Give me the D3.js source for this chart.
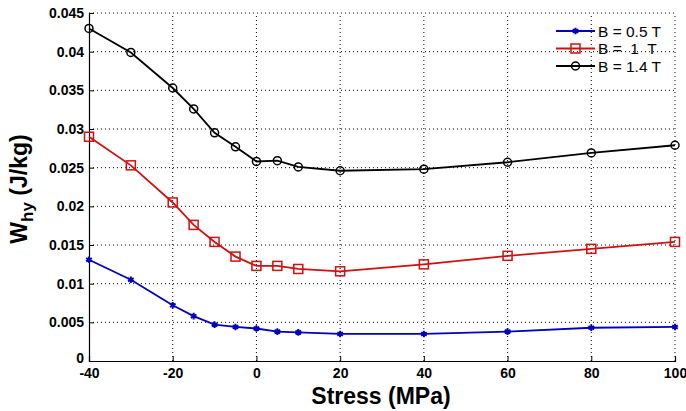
<!DOCTYPE html>
<html>
<head>
<meta charset="utf-8">
<script src="https://cdn.jsdelivr.net/npm/d3@7"></script>
<style>
body{margin:0;background:#fff;}
svg{font-family:Arial,"Liberation Sans",sans-serif;}
</style>
</head>
<body>
<div id="chart"></div>
<script>
// stress values (MPa)
var stress = [-40, -30, -20, -15, -10, -5, 0, 5, 10, 20, 40, 60, 80, 100];
var w05 = [0.0131, 0.0105, 0.0072, 0.0058, 0.0047, 0.0044, 0.0042, 0.0038, 0.0037, 0.0035, 0.0035, 0.0038, 0.0043, 0.0044];
var w10 = [0.0290, 0.0253, 0.0205, 0.0176, 0.0154, 0.0135, 0.0123, 0.0123, 0.0119, 0.0116, 0.0125, 0.0136, 0.0145, 0.0154];
var w14 = [0.0430, 0.0399, 0.0353, 0.0326, 0.0295, 0.0277, 0.0258, 0.0259, 0.0251, 0.0246, 0.0248, 0.0257, 0.0269, 0.0279];
var xTicks = [-40, -20, 0, 20, 40, 60, 80, 100];
var yTicks = [0, 0.005, 0.01, 0.015, 0.02, 0.025, 0.03, 0.035, 0.04, 0.045];
var seriesNames = ["B = 0.5 T", "B =  1  T", "B = 1.4 T"];

var width = 686, height = 411;
var margin = {top: 13, right: 11, bottom: 50, left: 89};

var svg = d3.select("#chart").append("svg")
    .attr("width", width).attr("height", height);

var x = d3.scaleLinear().domain([-40, 100]).range([margin.left, width - margin.right]);
var y = d3.scaleLinear().domain([0, 0.045]).range([height - margin.bottom, margin.top]);

// grid
svg.append("g").selectAll("line").data(xTicks.slice(1)).enter().append("line")
    .attr("x1", function(d){ return x(d); }).attr("x2", function(d){ return x(d); })
    .attr("y1", y(0)).attr("y2", y(0.045))
    .attr("stroke", "#000").attr("stroke-width", 1).attr("stroke-dasharray", "1,3");
svg.append("g").selectAll("line").data(yTicks.slice(1)).enter().append("line")
    .attr("x1", x(-40)).attr("x2", x(100))
    .attr("y1", function(d){ return y(d); }).attr("y2", function(d){ return y(d); })
    .attr("stroke", "#000").attr("stroke-width", 1).attr("stroke-dasharray", "1,3");

// axes
var xAxis = svg.append("g").attr("transform", "translate(0," + y(0) + ")")
    .call(d3.axisBottom(x).tickValues(xTicks).tickSize(-5).tickPadding(7)
      .tickFormat(function(d){ return String(d); }));
var yAxis = svg.append("g").attr("transform", "translate(" + x(-40) + ",0)")
    .call(d3.axisLeft(y).tickValues(yTicks).tickSize(-5).tickPadding(5)
      .tickFormat(function(d){ return d === 0 ? "0" : String(+d.toFixed(3)); }));
[xAxis, yAxis].forEach(function(a){
    a.select(".domain").attr("stroke", "#000").attr("stroke-width", 1.2);
    a.selectAll("text").attr("fill", "#000").style("font-size", "14px").style("font-weight", "bold");
});
// the "0" of the y axis sits right above the "-40": lift it a little
yAxis.selectAll(".tick text").filter(function(d){ return d === 0; }).attr("dy", "0.08em");

// lines
var series = [
    {vals: w05, color: "#0000c0", marker: "star"},
    {vals: w10, color: "#d01010", marker: "square"},
    {vals: w14, color: "#000000", marker: "circle"}
];
var line = d3.line().x(function(d){ return x(d[0]); }).y(function(d){ return y(d[1]); });

function drawMarker(g, m, color){
    if(m === "square"){
        g.append("rect").attr("x", -4.5).attr("y", -4.5).attr("width", 9).attr("height", 9)
          .attr("fill", "none").attr("stroke", color).attr("stroke-width", 1.5);
    } else if(m === "circle"){
        g.append("circle").attr("r", 4).attr("fill", "none").attr("stroke", color).attr("stroke-width", 1.5);
    } else {
        g.append("path").attr("d", d3.symbol().type(d3.symbolAsterisk).size(30)())
          .attr("fill", "none").attr("stroke", color).attr("stroke-width", 2);
        g.append("circle").attr("r", 1.8).attr("fill", color);
    }
}

series.forEach(function(s){
    var pts = stress.map(function(d, i){ return [d, s.vals[i]]; });
    svg.append("path").datum(pts).attr("d", line)
      .attr("fill", "none").attr("stroke", s.color).attr("stroke-width", 1.8);
    pts.forEach(function(p){
        var g = svg.append("g").attr("transform", "translate(" + x(p[0]) + "," + y(p[1]) + ")");
        drawMarker(g, s.marker, s.color);
    });
});

// legend
var legend = svg.append("g").attr("transform", "translate(556,31)");
series.forEach(function(s, i){
    var row = legend.append("g").attr("transform", "translate(0," + (i * 17.5) + ")");
    row.append("line").attr("x1", 0).attr("x2", 39).attr("stroke", s.color).attr("stroke-width", 1.8);
    drawMarker(row.append("g").attr("transform", "translate(19.5,0)"), s.marker, s.color);
    row.append("text").attr("x", 42).attr("y", 5.5).style("font-size", "15.5px")
      .style("white-space", "pre").attr("xml:space", "preserve").text(seriesNames[i]);
});

// axis titles
svg.append("text").attr("x", 381).attr("y", 403.5)
    .attr("text-anchor", "middle").style("font-size", "23px").style("font-weight", "bold")
    .text("Stress (MPa)");
var yl = svg.append("text").attr("transform", "translate(27,189) rotate(-90)")
    .attr("text-anchor", "middle").style("font-size", "23px").style("font-weight", "bold");
yl.append("tspan").text("W");
yl.append("tspan").attr("dy", 6).style("font-size", "17px").text("hy");
yl.append("tspan").attr("dy", -6).text(" (J/kg)");
</script>
</body>
</html>
